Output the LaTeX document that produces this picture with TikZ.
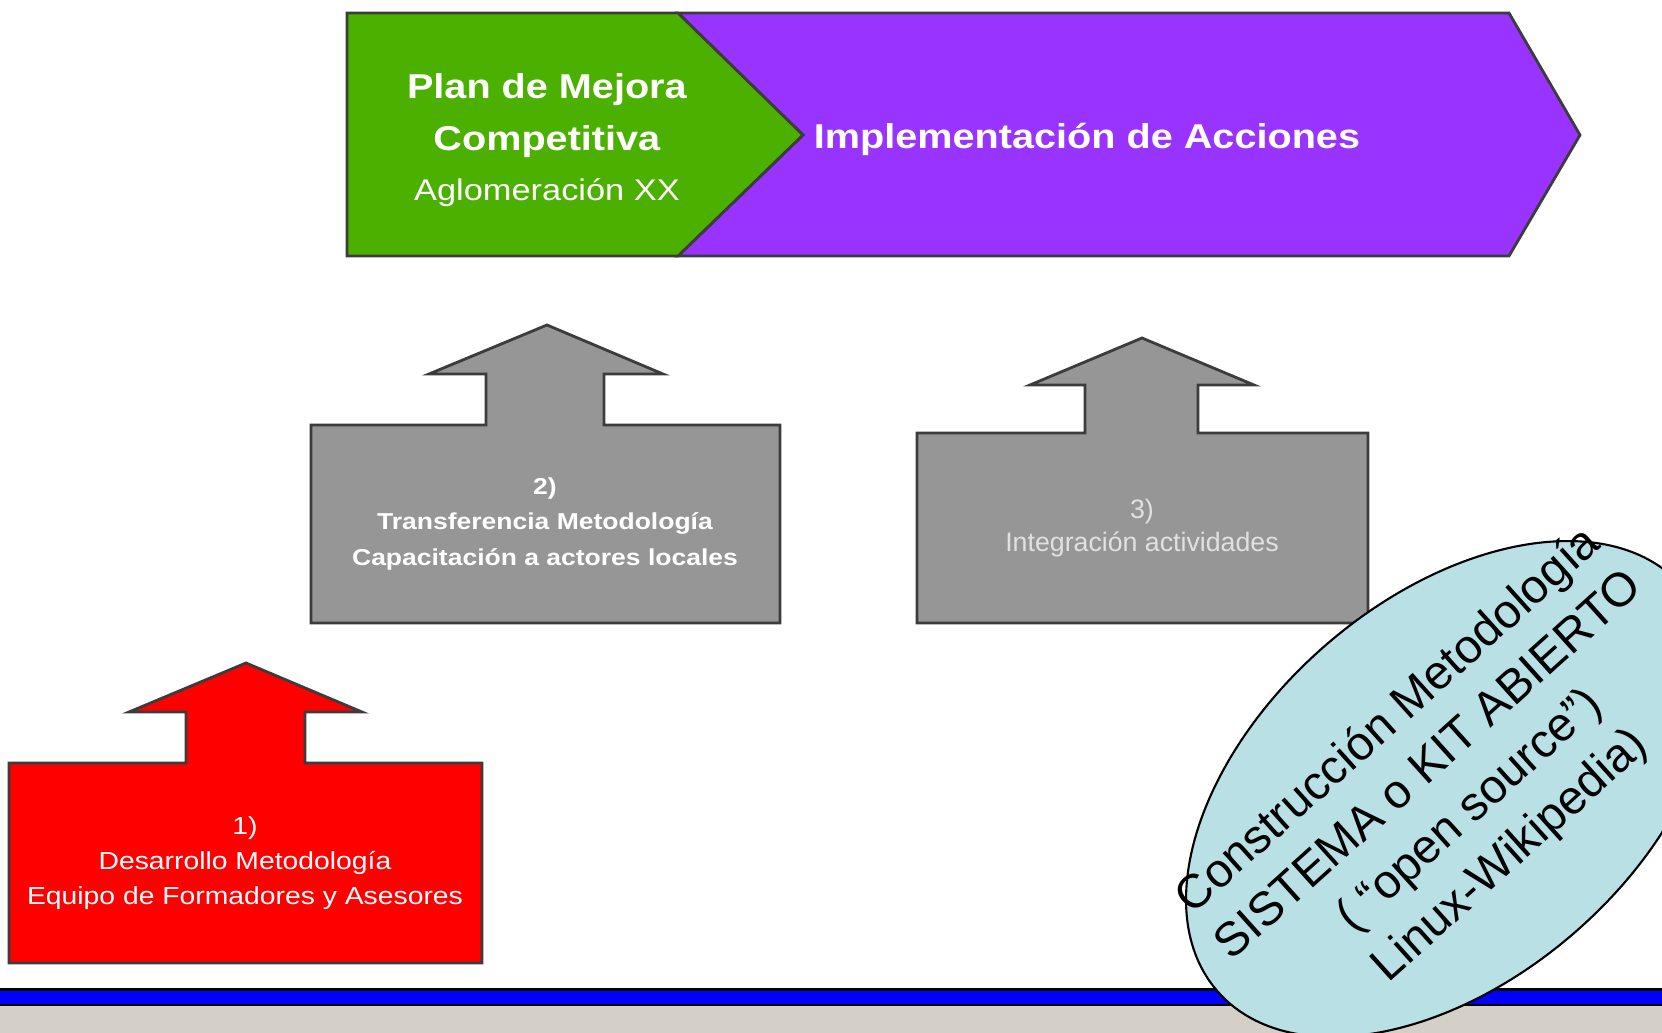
\documentclass[tikz,border=0pt]{standalone}
\usepackage{fontspec}
\setmainfont{Liberation Sans}
\newfontfamily\widesans[FakeStretch=1.15]{Liberation Sans}
\usetikzlibrary{shapes.geometric}

\definecolor{mejoragreen}{RGB}{76,176,0}
\definecolor{accionpurple}{RGB}{153,51,255}
\definecolor{pasogray}{RGB}{150,150,150}
\definecolor{kitblue}{RGB}{185,224,228}
\definecolor{piegray}{RGB}{212,208,200}
\definecolor{edgegray}{RGB}{60,60,60}
\definecolor{softwhite}{RGB}{225,225,225}

\begin{document}
\begin{tikzpicture}[x=0.01cm, y=-0.01cm,
        edge/.style={draw=edgegray, line width=0.8pt, line join=miter},
        lbl/.style={align=center, text=white, inner sep=0pt}]
    \clip (0,0) rectangle (1662,1033);
    \fill[white] (0,0) rectangle (1662,1033);

    \draw[edge, fill=accionpurple]
        (678,13) -- (1509,13) -- (1580,135) -- (1509,256)
                 -- (678,256) -- (803,135) -- cycle;
    \draw[edge, fill=mejoragreen]
        (347,13) -- (678,13) -- (803,135) -- (678,256) -- (347,256) -- cycle;

    \draw[edge, fill=red]
        (9,963) -- (9,763) -- (186,763) -- (186,712) -- (129,712)
                -- (246,663) -- (362,712) -- (305,712) -- (305,763)
                -- (482,763) -- (482,963) -- cycle;
    \draw[edge, fill=pasogray]
        (311,623) -- (311,425) -- (486,425) -- (486,374) -- (429,374)
                  -- (547,325) -- (663,374) -- (604,374) -- (604,425)
                  -- (780,425) -- (780,623) -- cycle;
    \draw[edge, fill=pasogray]
        (917,623) -- (917,433) -- (1085,433) -- (1085,385) -- (1030,385)
                  -- (1142,338) -- (1254,385) -- (1198,385) -- (1198,433)
                  -- (1368,433) -- (1368,623) -- cycle;

    \fill[black] (0,988) rectangle (1662,1006);
    \fill[blue] (0,990.5) rectangle (1662,1003.5);
    \fill[piegray] (0,1006) rectangle (1662,1033);

    \node[lbl, font=\widesans\fontsize{9.8pt}{14.8pt}\selectfont] (plan) at (547,140)
        {\textbf{Plan de Mejora}\\ \textbf{Competitiva}\\[-0.6pt]
         {\fontsize{8.5pt}{10pt}\selectfont Aglomeración XX}};
    \node[lbl, font=\widesans\bfseries\fontsize{9.8pt}{12pt}\selectfont] (accion) at (1087,139)
        {Implementación de Acciones};

    \node[lbl, font=\widesans\fontsize{7pt}{10pt}\selectfont] (paso1) at (245,863)
        {1)\\ Desarrollo Metodología\\ Equipo de Formadores y Asesores};
    \node[lbl, font=\widesans\bfseries\fontsize{6.55pt}{10pt}\selectfont] (paso2) at (545,524)
        {2)\\ Transferencia Metodología\\ Capacitación a actores locales};
    \node[lbl, text=softwhite, font=\fontsize{7.6pt}{9.2pt}\selectfont] (paso3) at (1142,528)
        {3)\\ Integración actividades};

    \node[ellipse, draw=black, line width=0.6pt, fill=kitblue, inner sep=0pt,
          minimum width=6.16cm, minimum height=3.8cm, rotate=41] (kit) at (1450,789) {};
    \node[align=center, inner sep=0pt, rotate=42,
          font=\fontsize{13.5pt}{17.2pt}\selectfont] (kittext) at (kit.center)
        {Construcción Metodología\\ SISTEMA o KIT ABIERTO\\ ( “open source”)\\ Linux-Wikipedia)};
\end{tikzpicture}
\end{document}
